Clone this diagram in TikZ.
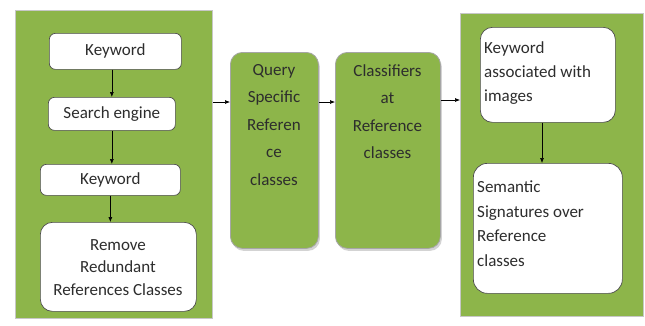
\documentclass[tikz,border=0pt]{standalone}
\usepackage{fontspec}
\setmainfont{Carlito}
\usetikzlibrary{arrows.meta,shadows}
\definecolor{leaf}{RGB}{141,181,74}
\definecolor{ink}{RGB}{45,45,45}
\begin{document}
\begin{tikzpicture}[x=1pt,y=-1pt,
  panel/.style={draw=black!22, line width=1.2pt, fill=leaf, inner sep=0pt, anchor=north west},
  wbox/.style={draw=black!70, line width=0.7pt, fill=white, rounded corners=6pt, inner sep=0pt,
    anchor=north west, text=ink, font=\fontsize{17}{22}\selectfont},
  gbox/.style={draw=black!35, line width=0.8pt, fill=leaf, rounded corners=12pt, inner sep=0pt,
    anchor=north west, drop shadow={shadow xshift=1.5pt, shadow yshift=-2.5pt, opacity=0.35}},
  txt/.style={text=ink, inner sep=0pt},
  link/.style={-{Latex[length=5pt,width=4pt]}, line width=0.6pt, black}
]
\useasboundingbox (0,0) rectangle (645,325);

% left panel: keyword search pipeline
\node[panel, minimum width=197pt, minimum height=308pt] (lp) at (15,10) {};
\node[wbox, minimum width=132pt, minimum height=36pt] (kw1) at (49,33) {Keyword};
\node[wbox, minimum width=127pt, minimum height=33pt] (se) at (48,97) {Search engine};
\node[wbox, minimum width=140pt, minimum height=31pt] (kw2) at (40,164) {Keyword};
\node[wbox, rounded corners=12pt, minimum width=156pt, minimum height=89pt] (rm) at (40,222) {};
\node[txt, anchor=north, align=center, font=\fontsize{17}{22.5}\selectfont] (rmt) at (118,239)
  {Remove\\Redundant\\References Classes};

\draw[link] (kw1.south -| se.north) -- (se.north);
\draw[link] (se.south) -- (se.south |- kw2.north);
\draw[link] (kw2.south) -- (kw2.south |- rm.north);

% middle stages
\node[gbox, minimum width=88pt, minimum height=196pt] (q) at (230,52) {};
\node[txt, anchor=north, align=center, font=\fontsize{17}{27.5}\selectfont] (qt) at (274,64)
  {Query\\Specific\\Referen\\ce\\classes};
\node[gbox, minimum width=105pt, minimum height=196pt] (c) at (335,52) {};
\node[txt, anchor=north, align=center, font=\fontsize{17}{27.5}\selectfont] (ct) at (387.5,64)
  {Classifiers\\at\\Reference\\classes};

% right panel: semantic signatures
\node[panel, minimum width=183pt, minimum height=303pt] (rp) at (460,13) {};
\node[wbox, rounded corners=12pt, minimum width=135pt, minimum height=95pt] (kwa) at (480,27) {};
\node[txt, anchor=north west, align=left, font=\fontsize{17}{24}\selectfont] (kwat) at (484,41)
  {Keyword\\associated with\\images};
\node[wbox, rounded corners=14pt, minimum width=149pt, minimum height=130pt] (sem) at (473,163) {};
\node[txt, anchor=north west, align=left, font=\fontsize{17}{24.5}\selectfont] (semt) at (477,181)
  {Semantic\\Signatures over\\Reference\\classes};

\draw[link] (kwa.south -| 542,0) -- (sem.north -| 542,0);

% flow between stages
\draw[link] (lp.east |- 0,102) -- (q.west |- 0,102);
\draw[link] (q.east |- 0,102) -- (c.west |- 0,102);
\draw[link] (c.east |- 0,100) -- (rp.west |- 0,100);
\end{tikzpicture}
\end{document}
